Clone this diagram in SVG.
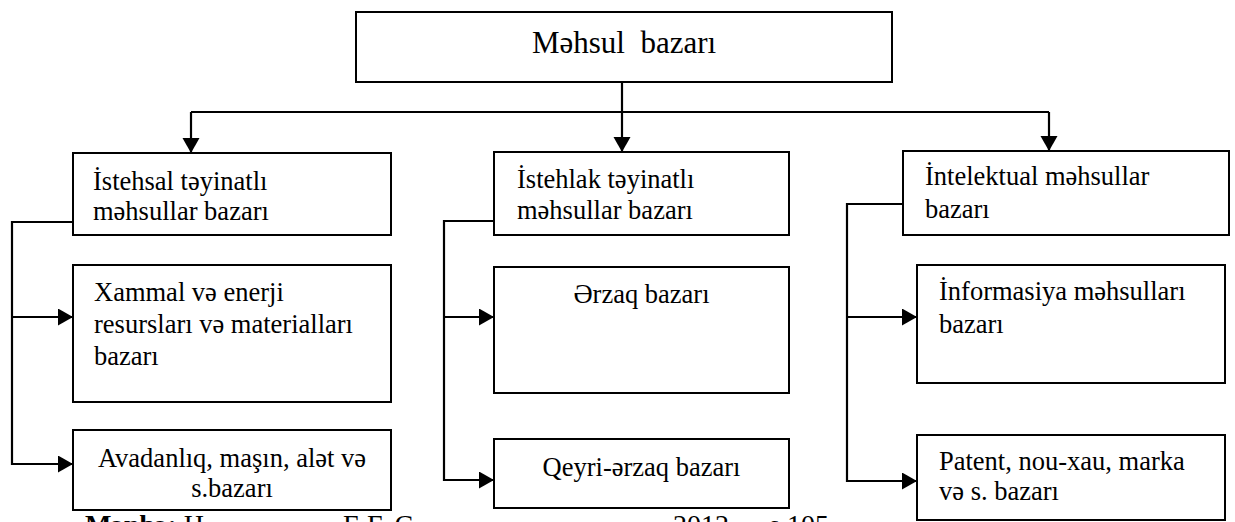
<svg xmlns="http://www.w3.org/2000/svg" width="1235" height="522" viewBox="0 0 1235 522">
  <style>
    .box { fill: #ffffff; stroke: #000000; stroke-width: 2; }
    .lbl { font-family: "Liberation Serif", "Times New Roman", serif; font-size: 26.5px; fill: #000000; }
    .mid { text-anchor: middle; }
    .title { font-family: "Liberation Serif", "Times New Roman", serif; font-size: 31px; fill: #000000; text-anchor: middle; white-space: pre; }
    .wire { fill: none; stroke: #000000; stroke-width: 2.2; }
    .src { font-family: "Liberation Serif", "Times New Roman", serif; font-size: 28px; fill: #000000; white-space: pre; }
  </style>
  <defs>
    <marker id="arrow" markerUnits="userSpaceOnUse" markerWidth="16" markerHeight="18" refX="15" refY="8.5" orient="auto">
      <path d="M0,0 L15,8.5 L0,17 Z" fill="#000000"/>
    </marker>
  </defs>

  <rect width="1235" height="522" fill="#ffffff"/>

  <!-- connectors -->
  <g id="connectors">
    <line class="wire" x1="622" y1="82" x2="622" y2="152" marker-end="url(#arrow)"/>
    <line class="wire" x1="191" y1="112" x2="1049" y2="112"/>
    <line class="wire" x1="191" y1="112" x2="191" y2="153" marker-end="url(#arrow)"/>
    <line class="wire" x1="1049" y1="112" x2="1049" y2="151" marker-end="url(#arrow)"/>

    <!-- production branch -->
    <polyline class="wire" points="73,222 12,222 12,464 73,464" marker-end="url(#arrow)"/>
    <line class="wire" x1="12" y1="317" x2="73" y2="317" marker-end="url(#arrow)"/>

    <!-- consumer branch -->
    <polyline class="wire" points="494,221 444,221 444,480 494,480" marker-end="url(#arrow)"/>
    <line class="wire" x1="444" y1="317" x2="494" y2="317" marker-end="url(#arrow)"/>

    <!-- intellectual branch -->
    <polyline class="wire" points="903,204 847,204 847,481 917,481" marker-end="url(#arrow)"/>
    <line class="wire" x1="847" y1="317" x2="917" y2="317" marker-end="url(#arrow)"/>
  </g>

  <g id="root">
    <rect class="box" x="356" y="12" width="536" height="70"/>
    <text class="title" x="624" y="53">Məhsul  bazarı</text>
  </g>

  <g id="production">
    <rect class="box" x="73" y="153" width="318" height="82"/>
    <text class="lbl" x="93" y="190">İstehsal təyinatlı</text>
    <text class="lbl" x="93" y="220">məhsullar bazarı</text>
  </g>

  <g id="raw-materials">
    <rect class="box" x="73" y="265" width="318" height="137"/>
    <text class="lbl" x="94" y="301">Xammal və enerji</text>
    <text class="lbl" x="94" y="333">resursları və materialları</text>
    <text class="lbl" x="94" y="365">bazarı</text>
  </g>

  <g id="equipment">
    <rect class="box" x="73" y="430" width="318" height="80"/>
    <text class="lbl mid" x="232" y="467">Avadanlıq, maşın, alət və</text>
    <text class="lbl mid" x="232" y="497">s.bazarı</text>
  </g>

  <g id="consumer">
    <rect class="box" x="494" y="152" width="295" height="83"/>
    <text class="lbl" x="517" y="188">İstehlak təyinatlı</text>
    <text class="lbl" x="517" y="219">məhsullar bazarı</text>
  </g>

  <g id="food">
    <rect class="box" x="494" y="267" width="295" height="126"/>
    <text class="lbl mid" x="641.5" y="303">Ərzaq bazarı</text>
  </g>

  <g id="non-food">
    <rect class="box" x="494" y="439" width="295" height="69"/>
    <text class="lbl mid" x="641.5" y="476">Qeyri-ərzaq bazarı</text>
  </g>

  <g id="intellectual">
    <rect class="box" x="903" y="151" width="326" height="84"/>
    <text class="lbl" x="925" y="185">İntelektual məhsullar</text>
    <text class="lbl" x="925" y="218">bazarı</text>
  </g>

  <g id="information">
    <rect class="box" x="917" y="265" width="308" height="118"/>
    <text class="lbl" x="939" y="300">İnformasiya məhsulları</text>
    <text class="lbl" x="939" y="333">bazarı</text>
  </g>

  <g id="patent">
    <rect class="box" x="917" y="435" width="308" height="85"/>
    <text class="lbl" x="939" y="470">Patent, nou-xau, marka</text>
    <text class="lbl" x="939" y="500">və s. bazarı</text>
  </g>

  <!-- source line, running off the lower edge -->
  <g id="source">
    <text class="src" x="85" y="534"><tspan font-weight="bold">Mənbə:</tspan> H</text>
    <text class="src" x="343" y="534">E.F. C</text>
    <text class="src" x="673" y="534">2012,</text>
    <text class="src" x="769" y="534">s.105</text>
  </g>
</svg>
